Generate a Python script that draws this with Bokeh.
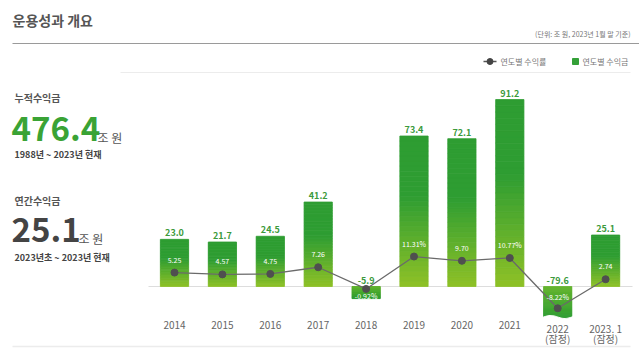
import numpy as np
from bokeh.plotting import figure
from bokeh.models import Range1d, Label, ColumnDataSource
from bokeh.core.properties import value
from bokeh.embed import file_html
from bokeh.resources import INLINE

# ---- data ----
years = ["2014", "2015", "2016", "2017", "2018", "2019", "2020", "2021",
         "2022\n(잠정)", "2023. 1\n(잠정)"]
earnings = [23.0, 21.7, 24.5, 41.2, -5.9, 73.4, 72.1, 91.2, -79.6, 25.1]
rates = [5.25, 4.57, 4.75, 7.26, -0.92, 11.31, 9.70, 10.77, -8.22, 2.74]
rate_labels = ["5.25", "4.57", "4.75", "7.26", "-0.92%", "11.31%", "9.70",
               "10.77%", "-8.22%", "2.74"]
cumulative_total = "476.4"
annual_total = "25.1"

# ---- layout constants (pixels) ----
W, H = 639, 354
FONT = "Noto Sans CJK KR"
X0, DX = 174.0, 47.9            # first bar centre, px per category
Y0, PY, PR = 286.0, 2.05, 2.65  # zero line, px per 조원, px per %
BAR_BOTTOM_PX = 318.0


def px2x(cx):
    return (cx - X0) / DX


def px2y(cy):
    return (Y0 - cy) / PY


p = figure(width=W, height=H, output_backend="svg", toolbar_location=None,
           x_range=Range1d(px2x(0), px2x(W)), y_range=Range1d(px2y(H), px2y(0)),
           x_axis_location=None, y_axis_location=None, min_border=0,
           outline_line_color=None, background_fill_color="white",
           border_fill_color="white")
p.grid.visible = False
p.extra_y_ranges = {"rate": Range1d(-(H - Y0) / PR, Y0 / PR)}

# ---- decorative rules ----
p.segment(x0=[px2x(12)], y0=[px2y(43)], x1=[px2x(639)], y1=[px2y(43)],
          line_color="#9a9a9a", line_width=1.2)
p.segment(x0=[px2x(120)], y0=[px2y(72)], x1=[px2x(630)], y1=[px2y(72)],
          line_color="#ececec", line_width=1)
p.segment(x0=[px2x(148)], y0=[0], x1=[px2x(632)], y1=[0],
          line_color="#dddddd", line_width=1)
p.segment(x0=[px2x(12)], y0=[px2y(346)], x1=[px2x(630)], y1=[px2y(346)],
          line_color="#ececec", line_width=1.5)

# ---- gradient bars ----
GREEN = np.array([46, 157, 50])
YELLOW = np.array([143, 193, 38])
LIGHT = np.array([100, 180, 44])


def hexc(c):
    c = np.clip(np.round(c), 0, 255).astype(int)
    return "#%02x%02x%02x" % tuple(c)


clip_low = px2y(BAR_BOTTOM_PX)
L, R, B, T, C = [], [], [], [], []
N = 30
half = 0.295
for i, v in enumerate(earnings):
    disp = max(v, clip_low)
    edges = np.linspace(0, disp, N + 1)
    for k in range(N):
        a, b = edges[k], edges[k + 1]
        mid = (a + b) / 2
        f = 1 - mid / disp  # 0 at far end, 1 at zero line
        if v >= 0:
            t = 0 if f < 0.4 else (f - 0.4) / 0.6
            col = GREEN + (YELLOW - GREEN) * t
        else:
            col = GREEN + (LIGHT - GREEN) * f
        L.append(i - half)
        R.append(i + half)
        B.append(min(a, b))
        T.append(max(a, b))
        C.append(hexc(col))
p.quad(left=L, right=R, bottom=B, top=T, fill_color=C, line_color=C,
       line_width=0.8)

# torn (wavy) bottom edge for bars cut off by the clipped scale
for i, v in enumerate(earnings):
    if v < clip_low:
        xs = np.linspace(i - half - 0.02, i + half + 0.02, 25)
        wave = clip_low + (3.0 / PY) * (0.5 + 0.5 * np.sin((xs - (i - half)) / (2 * half) * 2 * np.pi))
        px = list(xs) + [xs[-1], xs[0]]
        py = list(wave) + [clip_low - 1, clip_low - 1]
        p.patch(x=px, y=py, fill_color="white", line_color="white", line_width=1)

idx = list(range(len(years)))

# ---- value labels above bars ----
src = ColumnDataSource(dict(
    x=idx, y=[max(v, 0) for v in earnings],
    t=["%.1f" % v for v in earnings]))
p.text(x="x", y="y", text="t", source=src, y_offset=-3,
       text_align="center", text_baseline="bottom",
       text_font=value(FONT), text_font_style="bold",
       text_font_size="9px", text_color="#3c9a3c")

# ---- return-rate line ----
p.line(x=idx, y=rates, y_range_name="rate", line_color="#6a6a6a", line_width=1.3)
p.scatter(x=idx, y=rates, y_range_name="rate", size=7,
          fill_color="#4f4f4f", line_color="#4f4f4f")
offs = []
for r, v in zip(rates, earnings):
    if r >= 0:
        offs.append(-13)
    else:
        dot_px = Y0 - r * PR
        bottom_px = Y0 - max(v, clip_low) * PY
        if dot_px - Y0 > 15:
            offs.append(-11)
        else:
            offs.append(((dot_px + 3.5 + bottom_px) / 2) - dot_px)
rsrc = ColumnDataSource(dict(x=idx, y=rates, t=rate_labels, off=offs))
p.text(x="x", y="y", text="t", source=rsrc, y_range_name="rate",
       y_offset="off", text_align="center", text_baseline="middle",
       text_font=value(FONT), text_font_size="7px", text_color="white")

# ---- category labels ----
p.text(x=idx, y=[px2y(320)] * len(idx), text=years, text_align="center",
       text_baseline="top", text_font=value(FONT), text_font_size="10px",
       text_color="#666666", text_line_height=0.72)

# ---- legend ----
p.segment(x0=[px2x(483)], y0=[px2y(61)], x1=[px2x(496)], y1=[px2y(61)],
          line_color="#555555", line_width=1.5)
p.scatter(x=[px2x(489.5)], y=[px2y(61)], size=6, fill_color="#444444",
          line_color="#444444")
p.scatter(x=[px2x(575)], y=[px2y(61)], size=6, marker="square",
          fill_color="#34a038", line_color="#34a038")


def lab(text, cx, cy, size, color="#555555", style="normal",
        align="left", baseline="middle"):
    p.add_layout(Label(x=px2x(cx), y=px2y(cy), text=text, text_font=FONT,
                       text_font_size=size, text_color=color,
                       text_font_style=style, text_align=align,
                       text_baseline=baseline))


lab("연도별 수익률", 500, 61, "8px", "#777777")
lab("연도별 수익금", 582, 61, "8px", "#777777")

# ---- header ----
lab("운용성과 개요", 12, 19, "14px", "#555555", "bold")
lab("(단위: 조 원, 2023년 1월 말 기준)", 630, 33, "7px", "#777777", align="right")

# ---- left panel ----
lab("누적수익금", 14, 97, "10px", "#555555", "bold")
lab(cumulative_total, 11, 128, "33px", "#3aa335", "bold")
lab("조 원", 97, 137, "12px", "#555555")
lab("1988년 ~ 2023년 현재", 14, 154, "9px", "#444444", "bold")

lab("연간수익금", 14, 200, "10px", "#555555", "bold")
lab(annual_total, 11, 229, "33px", "#444444", "bold")
lab("조 원", 78, 238, "12px", "#555555")
lab("2023년초 ~ 2023년 현재", 14, 257, "9px", "#444444", "bold")

open("out.html", "w").write(file_html(p, INLINE))
